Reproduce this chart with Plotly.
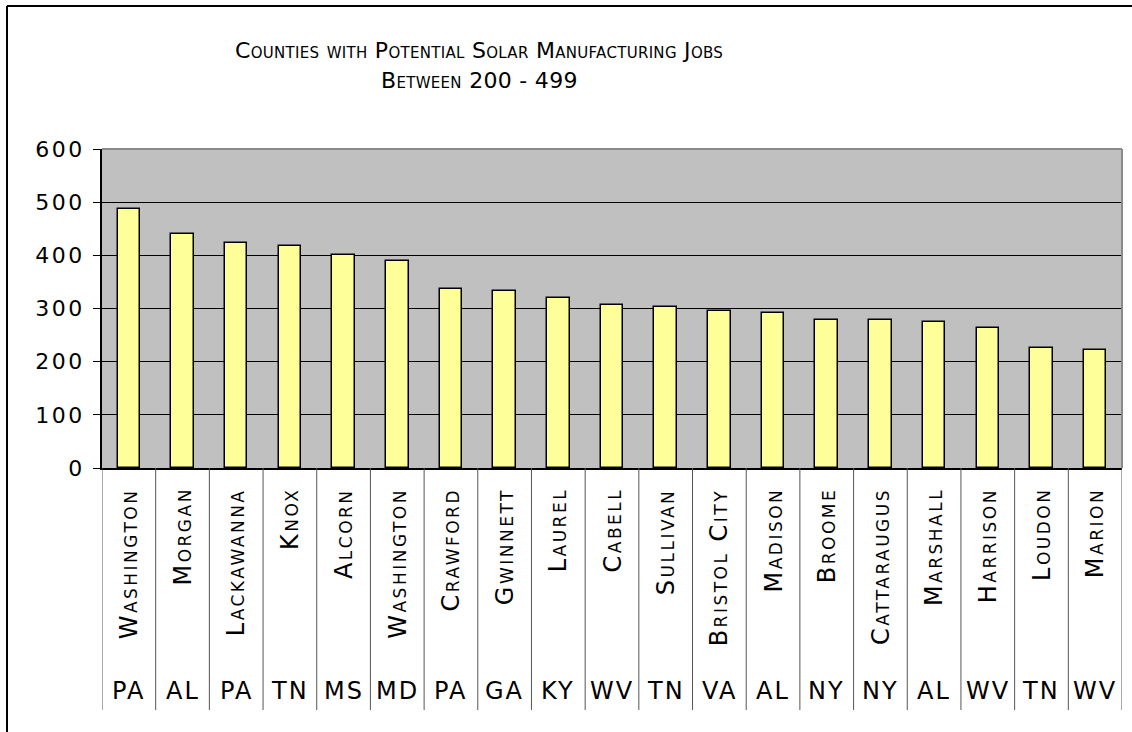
import plotly.graph_objects as go

# County-level estimates of potential solar manufacturing jobs
counties = ["Washington", "Morgan", "Lackawanna", "Knox", "Alcorn", "Washington",
            "Crawford", "Gwinnett", "Laurel", "Cabell", "Sullivan", "Bristol City",
            "Madison", "Broome", "Cattaraugus", "Marshall", "Harrison", "Loudon", "Marion"]
states = ["PA", "AL", "PA", "TN", "MS", "MD", "PA", "GA", "KY", "WV", "TN", "VA",
          "AL", "NY", "NY", "AL", "WV", "TN", "WV"]
jobs = [487, 441, 424, 417, 400, 390, 337, 333, 320, 306, 302, 295, 291, 278,
        278, 275, 263, 225, 222]
y_ticks = [0, 100, 200, 300, 400, 500, 600]

W, H = 1132, 732
L, R, T, B = 102, 10, 149, 264
plot_h = H - T - B
plot_w = W - L - R


def py(px):
    """Convert a page pixel row to paper y."""
    return (H - B - px) / plot_h


def pxx(px):
    """Convert a page pixel column to paper x."""
    return (px - L) / plot_w


def spaced(text, px):
    """Wrap text in a span with extra letter spacing."""
    return f'<span style="letter-spacing:{px}px">{text}</span>'


FONT = "DejaVu Sans, sans-serif"
pos = list(range(len(jobs)))

fig = go.Figure(go.Bar(
    x=pos, y=jobs, width=0.42,
    marker=dict(color="#FFFF99", line=dict(color="black", width=1.5)),
))

shapes = []
# category separators running through the label area
for i in range(len(jobs) + 1):
    shapes.append(dict(type="line", xref="x", yref="paper",
                       x0=i - 0.5, x1=i - 0.5, y0=0, y1=py(710),
                       line=dict(color="#555555", width=1)))
# grey top and right edges of the plot area
shapes.append(dict(type="line", xref="paper", yref="paper", x0=0, x1=1, y0=1, y1=1,
                   line=dict(color="#8a8a8a", width=2)))
shapes.append(dict(type="line", xref="paper", yref="paper", x0=1, x1=1, y0=0, y1=1,
                   line=dict(color="#8a8a8a", width=2)))
# outer chart frame
shapes.append(dict(type="line", xref="paper", yref="paper", x0=pxx(7), x1=pxx(7),
                   y0=py(6), y1=py(740), line=dict(color="black", width=2)))
shapes.append(dict(type="line", xref="paper", yref="paper", x0=pxx(7), x1=pxx(1140),
                   y0=py(6), y1=py(6), line=dict(color="black", width=2)))

annotations = []
for i, (c, s) in enumerate(zip(counties, states)):
    annotations.append(dict(x=i, xref="x", y=py(486), yref="paper",
                            text=spaced(c, 2.5),
                            textangle=-90, showarrow=False, yanchor="top",
                            xanchor="center",
                            font=dict(family=FONT, size=24, color="black",
                                      variant="small-caps")))
    annotations.append(dict(x=i, xref="x", y=py(691), yref="paper",
                            text=spaced(s, 2),
                            showarrow=False, yanchor="middle", xanchor="center",
                            font=dict(family=FONT, size=24, color="black")))

title_font = dict(family=FONT, size=22, color="black", variant="small-caps")
annotations.append(dict(x=pxx(479), xref="paper", y=py(51), yref="paper",
                        text=spaced("Counties with Potential Solar Manufacturing Jobs", 0.3),
                        showarrow=False, xanchor="center", yanchor="middle",
                        font=title_font))
annotations.append(dict(x=pxx(479), xref="paper", y=py(80), yref="paper",
                        text=spaced("Between 200 - 499", 0.3),
                        showarrow=False, xanchor="center", yanchor="middle",
                        font=title_font))

fig.update_layout(
    width=W, height=H,
    margin=dict(l=L, r=R, t=T, b=B, pad=0),
    paper_bgcolor="white", plot_bgcolor="#C0C0C0",
    showlegend=False, bargap=0,
    shapes=shapes, annotations=annotations,
    xaxis=dict(range=[-0.5, len(jobs) - 0.5], showticklabels=False, ticks="",
               showgrid=False, zeroline=False, showline=True,
               linecolor="black", linewidth=1.5),
    yaxis=dict(range=[0, 600], tickvals=y_ticks,
               ticktext=[spaced(v, 2.5) for v in y_ticks],
               ticks="outside", ticklen=7,
               tickcolor="black", showline=True, linecolor="black", linewidth=1.5,
               showgrid=True, gridcolor="black", gridwidth=1, zeroline=False,
               tickfont=dict(family=FONT, size=22, color="black"),
               ticklabelstandoff=4),
)

fig.write_html("out.html")
